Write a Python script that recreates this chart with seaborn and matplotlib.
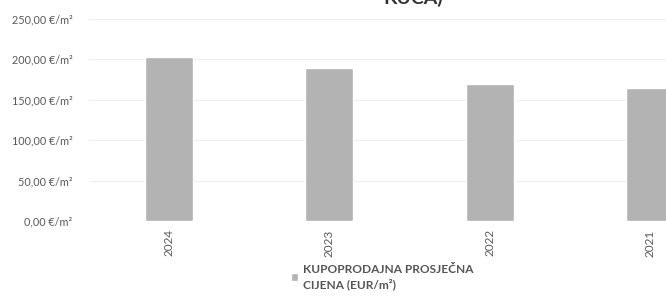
import matplotlib
matplotlib.use("Agg")
import matplotlib.pyplot as plt
from matplotlib.ticker import FuncFormatter, MultipleLocator
import pandas as pd
import seaborn as sns

# values (EUR/m2)
years = ["2024", "2023", "2022", "2021"]
prices = [203, 189, 169, 165]
series_label = "KUPOPRODAJNA PROSJEČNA\nCIJENA (EUR/m²)"

BAR_COLOR = "#b3b3b3"
TEXT_COLOR = "#595959"

sns.set_style("white")
plt.rcParams["font.family"] = ["Lato", "DejaVu Sans"]

df = pd.DataFrame({"year": years, "price": prices})

fig = plt.figure(figsize=(6.66, 3.0), dpi=100)
# the original chart is cropped on the right, so the axes run past the figure edge
ax = fig.add_axes([89 / 666, 79 / 300, 641 / 666, 202 / 300])

sns.barplot(data=df, x="year", y="price", order=years, color=BAR_COLOR,
            width=0.3, saturation=1, label=series_label, ax=ax)

ax.set_ylim(0, 250)
ax.set_xlim(-0.5, len(years) - 0.5)
ax.yaxis.set_major_locator(MultipleLocator(50))
ax.yaxis.set_major_formatter(
    FuncFormatter(lambda v, _: f"{v:.2f}".replace(".", ",") + " €/m²"))
ax.yaxis.grid(True, color="#efefef", lw=0.8)
ax.set_axisbelow(True)
for s in ax.spines.values():
    s.set_visible(False)
ax.set_xlabel("")
ax.set_ylabel("")
ax.tick_params(axis="y", length=0, pad=12, labelsize=7.8, labelcolor=TEXT_COLOR)
ax.tick_params(axis="x", length=0, pad=6, labelsize=8.5, labelcolor=TEXT_COLOR,
               labelrotation=90)

leg = ax.legend(loc="center left", bbox_to_anchor=(291 / 666, 1 - 277 / 300),
                bbox_transform=fig.transFigure, frameon=False,
                prop={"size": 8.6, "weight": "bold"},
                handlelength=0.6, handleheight=0.6, handletextpad=0.4,
                labelspacing=0.2, borderpad=0, borderaxespad=0)
for t in leg.get_texts():
    t.set_color("#555555")
    t.set_linespacing(1.3)

# only the bottom of the title survives the crop
fig.text(413 / 666, 1 - 4 / 300, "KUĆA)", ha="center", va="baseline",
         fontsize=14, fontweight="bold", color="#333333")

fig.savefig("out.png", dpi=100)
